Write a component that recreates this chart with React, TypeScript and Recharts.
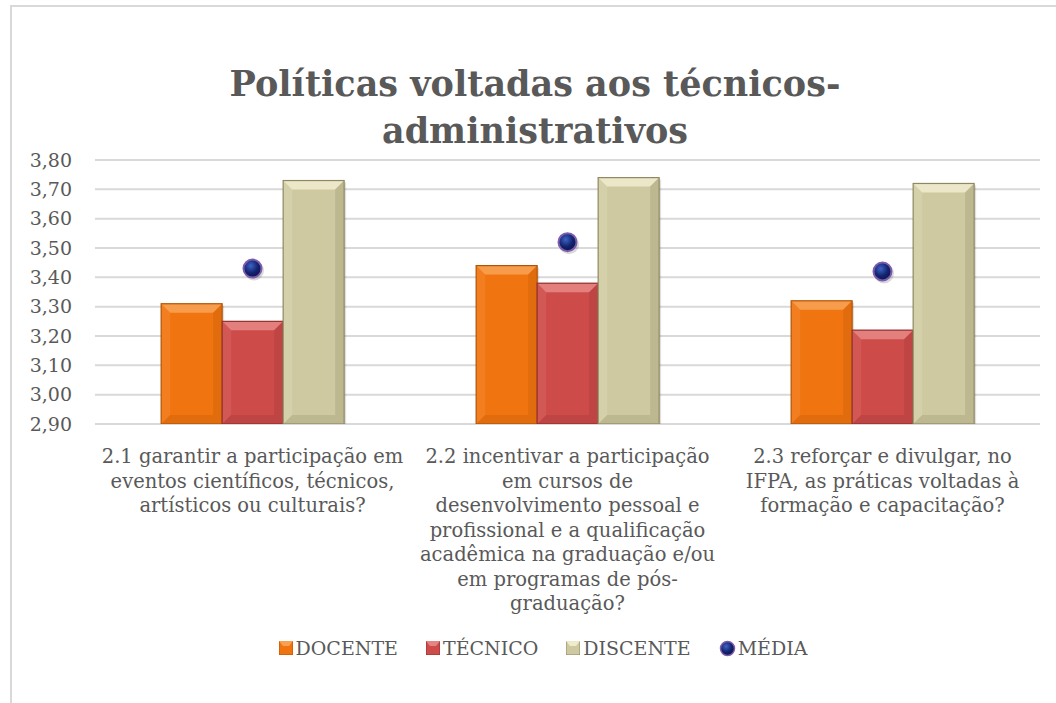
import { ComposedChart, Bar, Line, XAxis, YAxis, CartesianGrid, Legend } from 'recharts';

const categories: string[][] = [
  ['2.1 garantir a participação em', 'eventos científicos, técnicos,', 'artísticos ou culturais?'],
  [
    '2.2 incentivar a participação',
    'em cursos de',
    'desenvolvimento pessoal e',
    'profissional e a qualificação',
    'acadêmica na graduação e/ou',
    'em programas de pós-',
    'graduação?',
  ],
  ['2.3 reforçar e divulgar, no', 'IFPA, as práticas voltadas à', 'formação e capacitação?'],
];
const docente = [3.31, 3.44, 3.32];
const tecnico = [3.25, 3.38, 3.22];
const discente = [3.73, 3.74, 3.72];
const media = [3.43, 3.52, 3.42];
const yTicks = [2.9, 3.0, 3.1, 3.2, 3.3, 3.4, 3.5, 3.6, 3.7, 3.8];

const data = categories.map((lines, i) => ({
  name: lines.join(' '),
  lines,
  docente: docente[i],
  tecnico: tecnico[i],
  discente: discente[i],
  media: media[i],
}));

const textColor = '#595959';
const serif = '"DejaVu Serif", serif';

const palette = {
  docente: { fill: '#F07511', light: '#F9A65A', dark: '#B35405' },
  tecnico: { fill: '#CD4C4A', light: '#E88C89', dark: '#93302E' },
  discente: { fill: '#CEC9A1', light: '#F2EFD2', dark: '#8E8962' },
};

function BevelBar(props: any) {
  const { x, y, width, height, light, dark, fill } = props;
  if (!height || height <= 0) return null;
  const b = Math.min(9, width / 4, height / 2);
  return (
    <g>
      <rect x={x + 2} y={y + 2} width={width} height={height} fill="#000" opacity={0.12} />
      <rect x={x} y={y} width={width} height={height} fill={fill} />
      <polygon
        points={`${x},${y} ${x + width},${y} ${x + width - b},${y + b} ${x + b},${y + b}`}
        fill={light}
        opacity={0.8}
      />
      <polygon
        points={`${x},${y} ${x + b},${y + b} ${x + b},${y + height - b} ${x},${y + height}`}
        fill={light}
        opacity={0.2}
      />
      <polygon
        points={`${x + width},${y} ${x + width - b},${y + b} ${x + width - b},${y + height - b} ${x + width},${y + height}`}
        fill={dark}
        opacity={0.25}
      />
      <polygon
        points={`${x},${y + height} ${x + b},${y + height - b} ${x + width - b},${y + height - b} ${x + width},${y + height}`}
        fill={dark}
        opacity={0.25}
      />
      <rect x={x} y={y} width={width} height={height} fill="none" stroke={dark} strokeWidth={1.2} />
    </g>
  );
}

function MediaDot(props: any) {
  const { cx, cy } = props;
  if (cx == null || cy == null) return null;
  return (
    <g>
      <circle cx={cx + 1.5} cy={cy + 2} r={10} fill="#000" opacity={0.15} />
      <circle cx={cx} cy={cy} r={9} fill="url(#mediaGrad)" stroke="#7D5BAE" strokeWidth={2} />
    </g>
  );
}

function CategoryTick(props: any) {
  const { x, y, payload } = props;
  const lines: string[] = data[payload.index]?.lines ?? [payload.value];
  return (
    <text x={x} y={y} textAnchor="middle" fill={textColor} fontFamily={serif} fontSize={19.5}>
      {lines.map((l, i) => (
        <tspan key={i} x={x} dy={i === 0 ? 31 : 24.5}>
          {l}
        </tspan>
      ))}
    </text>
  );
}

type Kind = 'docente' | 'tecnico' | 'discente' | 'media';

function LegendMarker({ kind }: { kind: Kind }) {
  if (kind === 'media') {
    return (
      <svg width={17} height={17} style={{ marginRight: 2 }}>
        <circle cx={8.5} cy={8.5} r={7} fill="url(#mediaGrad)" stroke="#7D5BAE" strokeWidth={1.5} />
      </svg>
    );
  }
  const c = palette[kind];
  return (
    <svg width={14} height={14} style={{ marginRight: 3 }}>
      <rect x={0} y={0} width={14} height={14} fill={c.fill} stroke={c.dark} strokeWidth={1} />
      <polygon points="0,0 14,0 10,5 4,5" fill={c.light} opacity={0.9} />
    </svg>
  );
}

const legendItems: { kind: Kind; label: string }[] = [
  { kind: 'docente', label: 'DOCENTE' },
  { kind: 'tecnico', label: 'TÉCNICO' },
  { kind: 'discente', label: 'DISCENTE' },
  { kind: 'media', label: 'MÉDIA' },
];

function ChartLegend() {
  return (
    <div
      style={{
        height: 30,
        display: 'flex',
        justifyContent: 'center',
        alignItems: 'center',
        gap: 28,
        fontFamily: serif,
        fontSize: 19,
        color: textColor,
        paddingLeft: 46,
      }}
    >
      {legendItems.map((it) => (
        <span key={it.kind} style={{ display: 'flex', alignItems: 'center' }}>
          <LegendMarker kind={it.kind} />
          {it.label}
        </span>
      ))}
    </div>
  );
}

export default function App() {
  return (
    <div style={{ position: 'absolute', left: 0, top: 0, width: 1056, height: 703, background: '#fff', overflow: 'hidden' }}>
      <div
        style={{
          position: 'absolute',
          left: 10,
          top: 5,
          width: 1100,
          height: 760,
          border: '2px solid #D9D9D9',
          boxSizing: 'border-box',
        }}
      />
      <div
        style={{
          position: 'absolute',
          left: 0,
          top: 60,
          width: 1070,
          textAlign: 'center',
          fontFamily: serif,
          fontWeight: 'bold',
          fontSize: 35,
          lineHeight: '47px',
          color: textColor,
        }}
      >
        Políticas voltadas aos técnicos-
        <br />
        administrativos
      </div>
      <div style={{ position: 'absolute', left: 0, top: 0 }}>
        <ComposedChart
          width={1056}
          height={703}
          data={data}
          margin={{ top: 160, right: 16, bottom: 40, left: 0 }}
          barCategoryGap="21%"
          barGap={0}
        >
          <defs>
            <radialGradient id="mediaGrad" cx="40%" cy="35%" r="65%">
              <stop offset="0%" stopColor="#3F63C8" />
              <stop offset="60%" stopColor="#13256F" />
              <stop offset="100%" stopColor="#0B1550" />
            </radialGradient>
          </defs>
          <CartesianGrid vertical={false} stroke="#D9D9D9" strokeWidth={2} />
          <XAxis
            dataKey="name"
            axisLine={false}
            tickLine={false}
            interval={0}
            height={209}
            tick={<CategoryTick />}
          />
          <YAxis
            domain={[2.9, 3.8]}
            ticks={yTicks}
            width={95}
            axisLine={false}
            tickLine={false}
            tickSize={0}
            tickMargin={23}
            allowDataOverflow
            tickFormatter={(v: number) => v.toFixed(2).replace('.', ',')}
            tick={{ fill: textColor, fontFamily: serif, fontSize: 19 }}
          />
          <Legend verticalAlign="bottom" content={<ChartLegend />} />
          <Bar
            dataKey="docente"
            name="DOCENTE"
            fill={palette.docente.fill}
            isAnimationActive={false}
            shape={(p: any) => <BevelBar {...p} {...palette.docente} />}
          />
          <Bar
            dataKey="tecnico"
            name="TÉCNICO"
            fill={palette.tecnico.fill}
            isAnimationActive={false}
            shape={(p: any) => <BevelBar {...p} {...palette.tecnico} />}
          />
          <Bar
            dataKey="discente"
            name="DISCENTE"
            fill={palette.discente.fill}
            isAnimationActive={false}
            shape={(p: any) => <BevelBar {...p} {...palette.discente} />}
          />
          <Line
            dataKey="media"
            name="MÉDIA"
            stroke="none"
            isAnimationActive={false}
            dot={<MediaDot />}
            activeDot={false}
          />
        </ComposedChart>
      </div>
    </div>
  );
}
